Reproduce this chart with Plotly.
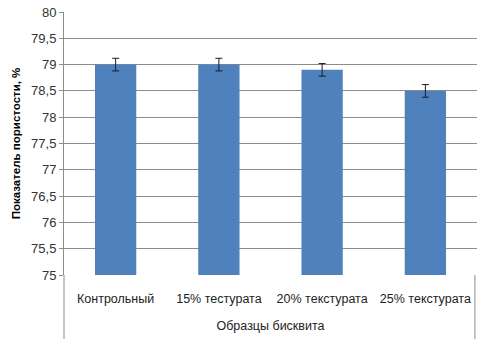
import plotly.graph_objects as go

categories = ["Контрольный", "15% тестурата", "20% текстурата", "25% текстурата"]
values = [79.0, 79.0, 78.9, 78.5]
errors = [0.12, 0.12, 0.12, 0.12]
y_ticks = [75, 75.5, 76, 76.5, 77, 77.5, 78, 78.5, 79, 79.5, 80]

fig = go.Figure()
fig.add_trace(go.Bar(
    x=categories, y=values,
    marker=dict(color="#4F81BD", line=dict(width=0)),
    width=0.4,
    error_y=dict(type="data", array=errors, visible=True, color="#1a1a2e", thickness=1, width=3.5),
))

font = "Liberation Sans Narrow, Liberation Sans, Arial"
fig.update_layout(
    width=482, height=339,
    margin=dict(l=64, r=5, t=12, b=64),
    paper_bgcolor="white", plot_bgcolor="white",
    separators=", ",
    showlegend=False,
    font=dict(family=font, color="#222222"),
    xaxis=dict(
        showgrid=False, showline=False, ticks="", ticklabelstandoff=14,
        tickfont=dict(size=12.5, family=font, color="#222222"),
        title=dict(text="Образцы бисквита", font=dict(size=12.5, family=font), standoff=16),
    ),
    yaxis=dict(
        range=[75, 80], tickvals=y_ticks,
        ticktext=[("%g" % v).replace(".", ",") for v in y_ticks],
        showgrid=True, gridcolor="#8c8c8c", gridwidth=1,
        showline=True, linecolor="#8c8c8c", linewidth=1,
        zeroline=False, ticks="outside", ticklen=4, tickcolor="#8c8c8c",
        tickfont=dict(size=13, family=font, color="#333333"),
        title=dict(text="<b>Показатель пористости, %</b>", font=dict(size=11.5, family="Liberation Sans, Arial", color="#000000"), standoff=8),
    ),
    shapes=[
        dict(type="line", xref="paper", yref="paper", x0=0, x1=0, y0=0, y1=-0.25,
             line=dict(color="#8c8c8c", width=1)),
        dict(type="line", xref="paper", yref="paper", x0=0.995, x1=0.995, y0=0, y1=-0.25,
             line=dict(color="#8c8c8c", width=1)),
    ],
)
fig.write_html("out.html", config={"displayModeBar": False},
               post_script="document.body.style.margin='0';document.body.style.padding='0';")
